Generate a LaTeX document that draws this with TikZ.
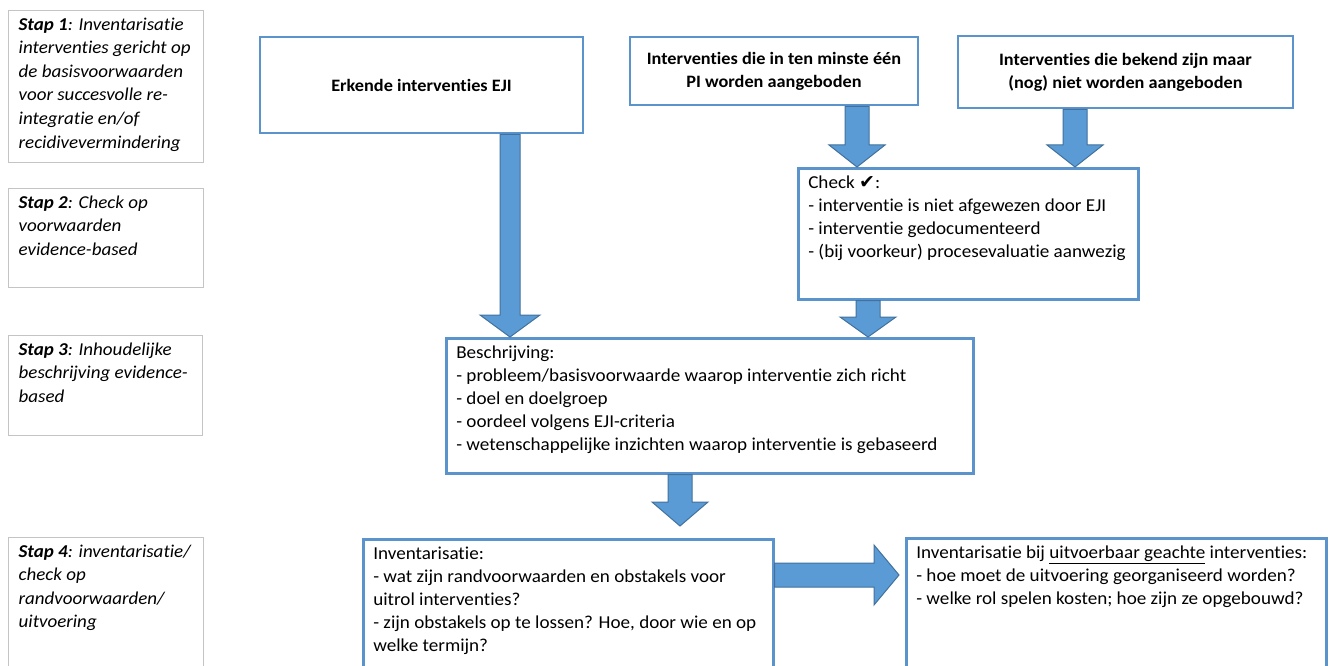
\documentclass[tikz,border=0pt]{standalone}
\usepackage{fontspec}
\setmainfont{Carlito}[Ligatures=NoCommon, FakeStretch=1.05]
\newfontfamily\symfont{DejaVu Sans}
\usetikzlibrary{calc}
\definecolor{arrfill}{HTML}{5B9BD5}
\definecolor{arrline}{HTML}{41719C}
\definecolor{boxline}{HTML}{5B93CC}
\definecolor{stapline}{HTML}{C4C4C4}
\newcommand\varrow[5]{\path[blockarrow] let \p1=(#1), \p2=(#2) in
  (\x1-#3,\y1) -- (\x1-#3,\y2+#5) -- (\x1-#4,\y2+#5) -- (\x1,\y2) --
  (\x1+#4,\y2+#5) -- (\x1+#3,\y2+#5) -- (\x1+#3,\y1) -- cycle;}
\newcommand\harrow[5]{\path[blockarrow] let \p1=(#1), \p2=(#2) in
  (\x1,\y1-#3) -- (\x2-#5,\y1-#3) -- (\x2-#5,\y1-#4) -- (\x2,\y1) --
  (\x2-#5,\y1+#4) -- (\x2-#5,\y1+#3) -- (\x1,\y1+#3) -- cycle;}
\begin{document}
\begin{tikzpicture}[x=1pt,y=-1pt,
  stapbox/.style={draw=stapline, line width=1.3pt, fill=white, anchor=north west,
    inner xsep=10pt, inner ysep=7pt,
    font=\fontsize{18.1}{23.6}\selectfont\itshape},
  topbox/.style={draw=boxline, line width=2.6pt, fill=white, inner sep=0pt,
    align=center, font=\fontsize{17.4}{23}\selectfont\bfseries},
  textbox/.style={draw=boxline, line width=2.6pt, fill=white, anchor=north west,
    inner xsep=10pt, inner ysep=8pt, font=\fontsize{18.2}{23}\selectfont},
  blockarrow/.style={draw=arrline, line width=1pt, fill=arrfill, line join=miter}]
\clip (0,0) rectangle (1331,666);
\fill[white] (0,0) rectangle (1331,666);

% step boxes
\node[stapbox] (s1) at (8,10) {\begin{minipage}[t][138pt][t]{175pt}\raggedright
\textbf{Stap 1}: Inventarisatie\\ interventies gericht op\\ de basisvoorwaarden\\ voor succesvolle re-\\ integratie en/of\\ recidivevermindering\end{minipage}};
\node[stapbox] (s2) at (8,188) {\begin{minipage}[t][85pt][t]{175pt}\raggedright
\textbf{Stap 2}: Check op\\ voorwaarden\\ evidence-based\end{minipage}};
\node[stapbox] (s3) at (8,335) {\begin{minipage}[t][86pt][t]{174pt}\raggedright
\textbf{Stap 3}: Inhoudelijke\\ beschrijving evidence-\\ based\end{minipage}};
\node[stapbox] (s4) at (8,537) {\begin{minipage}[t][150pt][t]{175pt}\raggedright
\textbf{Stap 4}: inventarisatie/\\ check op\\ randvoorwaarden/\\ uitvoering\end{minipage}};

% top boxes
\node[topbox, minimum width=323pt, minimum height=96pt] (erk) at (421.5,85) {Erkende interventies EJI};
\node[topbox, minimum width=288pt, minimum height=68pt] (pi) at (774,71) {Interventies die in ten minste één\\ PI worden aangeboden};
\node[topbox, minimum width=335pt, minimum height=72pt] (bek) at (1125.5,72) {Interventies die bekend zijn maar\\ (nog) niet worden aangeboden};

% check box
\node[textbox] (chk) at (797,167) {\begin{minipage}[t][115pt][t]{320pt}
Check {\symfont\fontsize{19}{23}\selectfont ✔}:\\
- interventie is niet afgewezen door EJI\\
- interventie gedocumenteerd\\
- (bij voorkeur) procesevaluatie aanwezig\end{minipage}};

% description box
\node[textbox] (bes) at (445,337) {\begin{minipage}[t][119pt][t]{507pt}
Beschrijving:\\
- probleem/basisvoorwaarde waarop interventie zich richt\\
- doel en doelgroep\\
- oordeel volgens EJI-criteria\\
- wetenschappelijke inzichten waarop interventie is gebaseerd\end{minipage}};

% bottom boxes
\node[textbox] (inv) at (362,538) {\begin{minipage}[t][150pt][t]{390pt}
Inventarisatie:\\
- wat zijn randvoorwaarden en obstakels voor\\
uitrol interventies?\\
- zijn obstakels op te lossen? Hoe, door wie en op\\
welke termijn?\end{minipage}};
\node[textbox] (uit) at (905,537) {\begin{minipage}[t][150pt][t]{400pt}
Inventarisatie bij \underline{uitvoerbaar geachte} interventies:\\
- hoe moet de uitvoering georganiseerd worden?\\
- welke rol spelen kosten; hoe zijn ze opgebouwd?\end{minipage}};

% arrow axes
\coordinate (a1) at (510,0);
\coordinate (a2) at (857,0);
\coordinate (a3) at (1075,0);
\coordinate (a4) at (868,0);
\coordinate (a5) at (680,0);

\varrow{erk.south -| a1}{bes.north -| a1}{10pt}{30pt}{22pt}
\varrow{pi.south -| a2}{chk.north -| a2}{12pt}{28pt}{22pt}
\varrow{bek.south -| a3}{chk.north -| a3}{12pt}{28pt}{22pt}
\varrow{chk.south -| a4}{bes.north -| a4}{12pt}{28pt}{20pt}
\varrow{bes.south -| a5}{$(inv.north -| a5)+(0,-12)$}{12pt}{28pt}{24pt}
\harrow{$(inv.north east)+(0,37)$}{$(uit.north west)+(-6,37)$}{12pt}{30pt}{25pt}
\end{tikzpicture}
\end{document}
